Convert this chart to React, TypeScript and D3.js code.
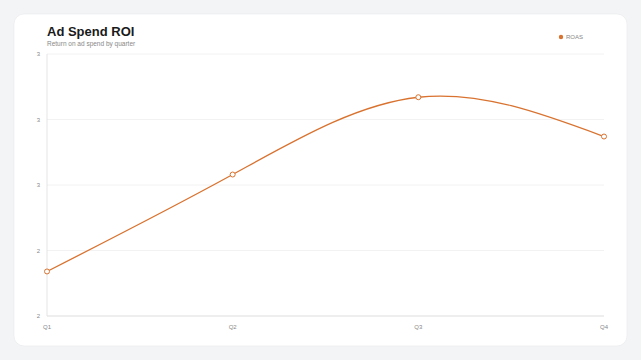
import React from "react";
import * as d3 from "d3";

const quarters = ["Q1", "Q2", "Q3", "Q4"];
const roas = [2.17, 2.54, 2.835, 2.685];
const yTicks = [2, 2.25, 2.5, 2.75, 3];
const seriesName = "ROAS";

export default function App() {
  const W = 641, H = 360;
  const left = 47, right = 604, top = 54, bottom = 316;
  const x = d3.scalePoint<string>().domain(quarters).range([left, right]).padding(0);
  const y = d3.scaleLinear().domain([2, 3]).range([bottom, top]);
  const fmt = d3.format(".0f");
  const color = "#d9722f";
  const line = d3
    .line<number>()
    .x((_, i) => x(quarters[i]) as number)
    .y((d) => y(d))
    .curve(d3.curveNatural);
  const font = "'Liberation Sans', Arial, Helvetica, sans-serif";
  return (
    <svg width={W} height={H} style={{ position: "absolute", left: 0, top: 0 }} fontFamily={font}>
      <rect x={0} y={0} width={W} height={H} fill="#f3f4f6" />
      <rect x={14} y={14} width={613} height={332} rx={10} fill="#ffffff" stroke="#e8e9ec" strokeWidth={0.6} />
      <text x={47} y={36} fontSize={13} fontWeight="bold" fill="#1a1a1a">Ad Spend ROI</text>
      <text x={47} y={46} fontSize={6.5} fill="#888">Return on ad spend by quarter</text>
      {yTicks.map((t) => (
        <g key={t}>
          <line x1={left} x2={right} y1={y(t)} y2={y(t)} stroke="#efefef" strokeWidth={0.8} />
          <text x={40} y={y(t)} dy="0.35em" textAnchor="end" fontSize={6} fill="#888">{fmt(t)}</text>
        </g>
      ))}
      <line x1={left} x2={left} y1={top} y2={bottom} stroke="#dedede" strokeWidth={0.8} />
      <line x1={left} x2={right} y1={bottom} y2={bottom} stroke="#dedede" strokeWidth={0.8} />
      {quarters.map((q) => (
        <text key={q} x={x(q)} y={329} textAnchor="middle" fontSize={6} fill="#888">{q}</text>
      ))}
      <path d={line(roas) || ""} fill="none" stroke={color} strokeWidth={1.3} />
      {roas.map((v, i) => (
        <circle key={i} cx={x(quarters[i])} cy={y(v)} r={2.5} fill="#fff" stroke={color} strokeWidth={1} />
      ))}
      <circle cx={561} cy={37} r={2.2} fill={color} />
      <text x={566} y={37} dy="0.35em" fontSize={6} fill="#888">{seriesName}</text>
    </svg>
  );
}
